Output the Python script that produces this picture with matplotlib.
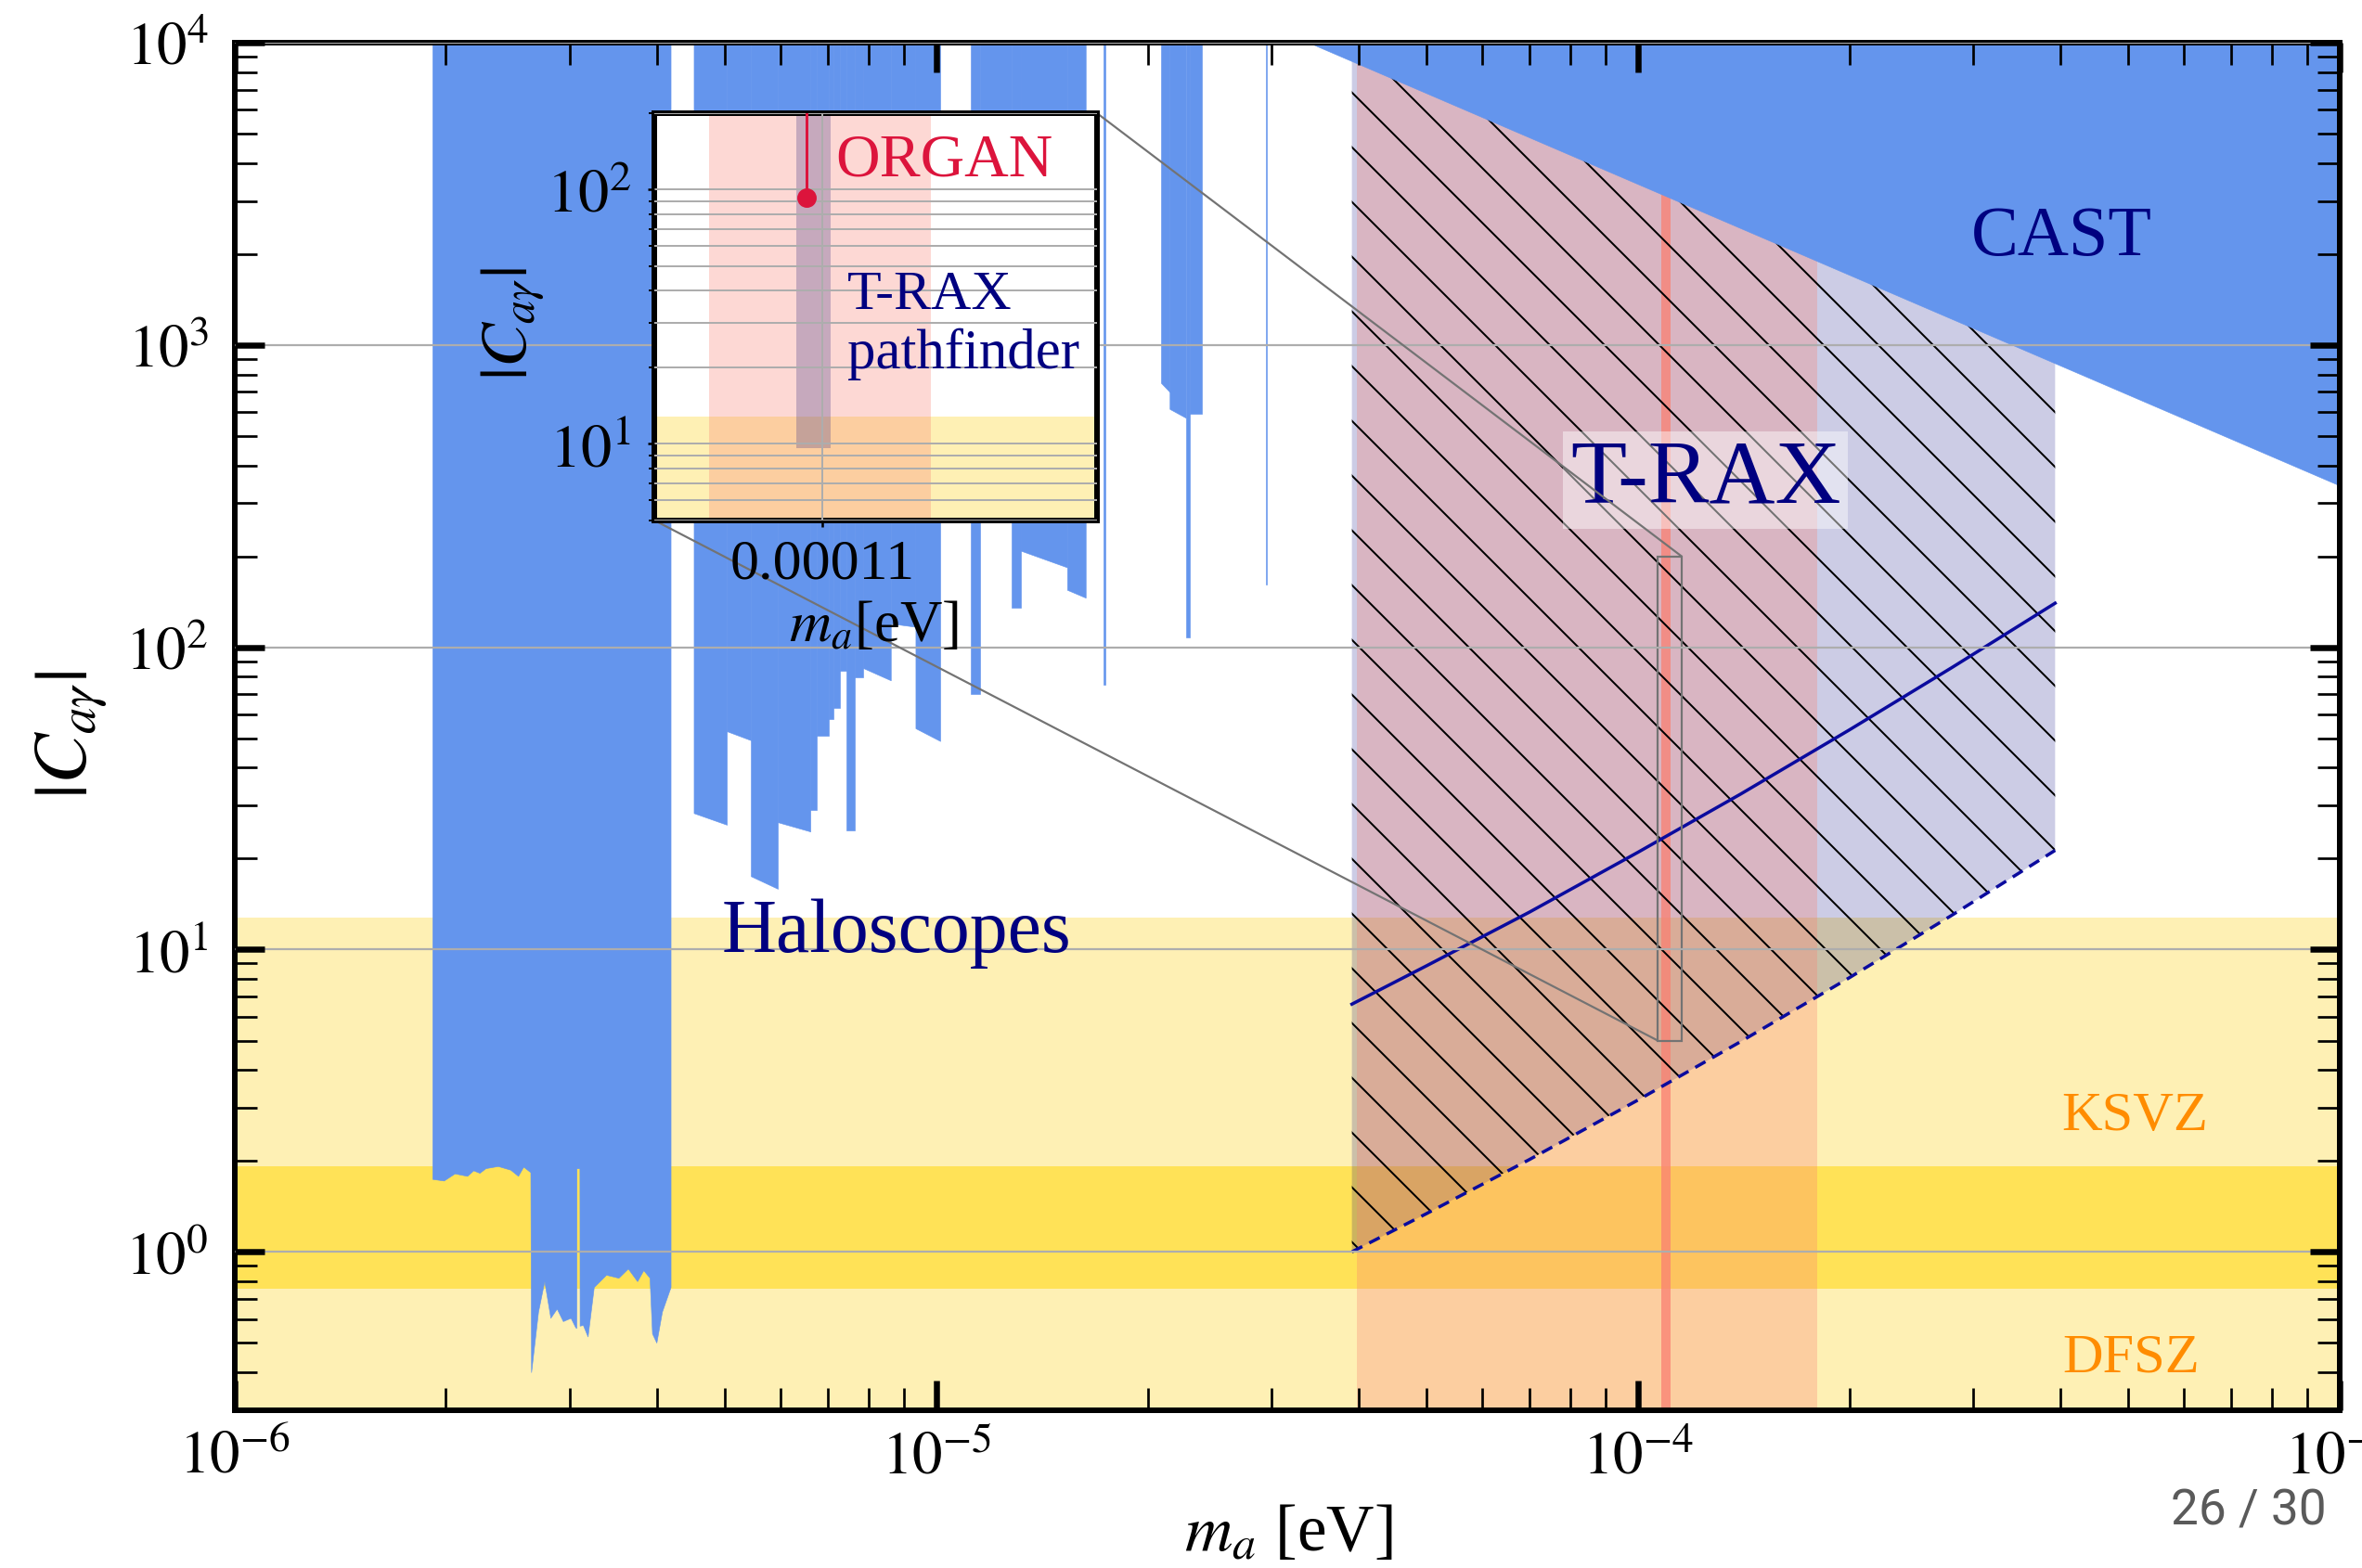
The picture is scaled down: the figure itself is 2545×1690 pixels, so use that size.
import numpy as np
import matplotlib
matplotlib.use('Agg')
import matplotlib.pyplot as plt
from matplotlib.ticker import NullFormatter, LogLocator
from mpl_toolkits.axes_grid1.inset_locator import mark_inset

DPI = 354
W, H = 2545, 1691


def px(v):
    return v * 72.0 / DPI


plt.rcParams['font.family'] = ['Liberation Serif', 'DejaVu Serif']
plt.rcParams['mathtext.fontset'] = 'stix'
plt.rcParams['hatch.linewidth'] = px(2.0)
plt.rcParams['hatch.color'] = 'black'

# ---------------- data ----------------
x_lim = [1e-6, 1e-3]
y_lim = [0.3, 1e4]
xtick_vals = [1e-6, 1e-5, 1e-4, 1e-3]
xtick_labels = [r'$10^{-6}$', r'$10^{-5}$', r'$10^{-4}$', r'$10^{-3}$']
ytick_vals = [1e0, 1e1, 1e2, 1e3, 1e4]
ytick_labels = [r'$10^{0}$', r'$10^{1}$', r'$10^{2}$', r'$10^{3}$', r'$10^{4}$']

ksvz_band = [0.3, 12.8]
dfsz_band = [0.755, 1.92]

# ADMX-like haloscope (lower edge of exclusion)
admx_m = [1.913e-6, 1.986e-6, 2.058e-6, 2.144e-6, 2.188e-6, 2.233e-6, 2.278e-6,
          2.372e-6, 2.471e-6, 2.534e-6, 2.578e-6, 2.639e-6,
          2.645e-6, 2.706e-6, 2.762e-6, 2.818e-6, 2.877e-6, 2.936e-6, 3.011e-6, 3.058e-6,
          3.068e-6, 3.070e-6, 3.100e-6, 3.102e-6,
          3.135e-6, 3.184e-6, 3.249e-6, 3.282e-6, 3.383e-6, 3.523e-6, 3.634e-6,
          3.746e-6, 3.823e-6, 3.902e-6, 3.934e-6, 3.990e-6, 4.063e-6, 4.180e-6]
admx_C = [1.743, 1.722, 1.818, 1.784, 1.861, 1.826, 1.892,
          1.923, 1.870, 1.784, 1.914, 1.835,
          0.40, 0.634, 0.80, 0.605, 0.649, 0.590, 0.605, 0.563,
          0.56, 1.89, 1.89, 0.57,
          0.573, 0.525, 0.765, 0.783, 0.840, 0.821, 0.881,
          0.80, 0.870, 0.821, 0.537, 0.501, 0.634, 0.765]

# other haloscopes: mass range and lower edge (left, right)
halo_m_lo = [4.510e-6, 5.027e-6, 5.440e-6, 5.942e-6, 6.612e-6, 6.748e-6, 7.027e-6,
             7.134e-6, 7.281e-6, 7.454e-6, 7.661e-6, 7.857e-6, 8.609e-6, 9.338e-6,
             1.1208e-5, 1.1555e-5, 1.279e-5, 1.318e-5, 1.536e-5, 1.730e-5,
             2.090e-5, 2.150e-5, 2.267e-5, 2.300e-5, 2.950e-5]
halo_m_hi = [5.027e-6, 5.440e-6, 5.942e-6, 6.612e-6, 6.748e-6, 7.027e-6, 7.134e-6,
             7.281e-6, 7.454e-6, 7.661e-6, 7.857e-6, 8.609e-6, 9.338e-6, 1.0125e-5,
             1.1555e-5, 1.279e-5, 1.318e-5, 1.536e-5, 1.632e-5, 1.740e-5,
             2.150e-5, 2.267e-5, 2.300e-5, 2.390e-5, 2.960e-5]
halo_C_left = [28.3, 52.8, 17.5, 26.4, 29.0, 51.0, 58.0,
               63.0, 83.6, 24.8, 79.5, 85.5, 120.0, 54.0,
               70.0, 300.0, 135.0, 209.0, 155.0, 75.0,
               750.0, 615.0, 108.0, 592.0, 161.0]
halo_C_right = [25.9, 49.3, 15.9, 24.6, 29.0, 51.0, 58.0,
                63.0, 83.6, 24.8, 79.5, 77.8, 117.0, 49.0,
                70.0, 300.0, 135.0, 184.0, 146.0, 75.0,
                700.0, 575.0, 108.0, 592.0, 161.0]

# CAST helioscope lower edge
cast_m = [3.4e-5, 1e-3]
cast_C = [1e4, 343.0]

# T-RAX projection
trax_m = [3.91e-5, 5e-5, 7e-5, 1e-4, 1.4e-4, 2e-4, 2.8e-4, 3.93e-4]
trax_lower = [1.0, 1.34, 2.02, 3.18, 4.96, 8.07, 12.99, 21.3]
trax_line = [6.6, 8.85, 13.3, 21.0, 32.7, 53.3, 85.7, 140.0]
trax_band_m = [3.97e-5, 1.8e-4]
organ_band_main_m = [1.080e-4, 1.1125e-4]

# inset
inset_xlim = [1.067e-4, 1.154e-4]
inset_ylim = [5.0, 200.0]
inset_band_m = [1.0778e-4, 1.1214e-4]
pathfinder_m = [1.0950e-4, 1.1017e-4]
pathfinder_C = [9.6, 1e4]
organ_m = 1.0970e-4
organ_C = [92.9, 1e4]

BLUE = '#6495ED'
NAVY = '#000080'
LINE = '#0b0b9e'
LIGHTY = '#FEF0B4'
DARKY = '#FFE257'

# ---------------- figure ----------------
fig = plt.figure(figsize=(W / DPI, H / DPI), dpi=DPI)
ax = fig.add_axes([0.09937, 0.10077, 0.8912, 0.87132])
ax.set_xscale('log')
ax.set_yscale('log')
ax.set_xlim(x_lim)
ax.set_ylim(y_lim)

ax.axhspan(ksvz_band[0], ksvz_band[1], color=LIGHTY, lw=0, zorder=0.2)
ax.axhspan(dfsz_band[0], dfsz_band[1], color=DARKY, lw=0, zorder=0.3)

ax.fill_between(admx_m, admx_C, y_lim[1], facecolor=BLUE, edgecolor=BLUE,
                lw=px(0.6), zorder=0.5)
for lo, hi, cl, cr in zip(halo_m_lo, halo_m_hi, halo_C_left, halo_C_right):
    ax.fill_between([lo, hi], [cl, cr], y_lim[1], facecolor=BLUE,
                    edgecolor=BLUE, lw=px(0.6), zorder=0.5)

ax.fill_between(trax_m, trax_lower, y_lim[1], facecolor=NAVY, alpha=0.2,
                lw=0, zorder=0.6)
ax.axvspan(trax_band_m[0], trax_band_m[1], color='salmon', alpha=0.3, lw=0,
           zorder=0.7)
ax.axvspan(organ_band_main_m[0], organ_band_main_m[1], color='salmon',
           alpha=0.75, lw=0, zorder=0.75)
ax.fill_between(trax_m, trax_lower, y_lim[1], facecolor='none',
                edgecolor='black', hatch='\\\\', lw=0, zorder=0.8)

ax.fill_between(cast_m, cast_C, y_lim[1], facecolor=BLUE, edgecolor=BLUE,
                lw=px(0.6), zorder=0.9)

ax.plot(trax_m, trax_line, color=LINE, lw=px(3.5), zorder=1.0)
ax.plot(trax_m, trax_lower, color=LINE, lw=px(3.5), ls=(0, (3.6, 2.4)),
        zorder=1.0)

ax.set_axisbelow(False)
ax.grid(True, which='major', axis='y', color='#adadad', lw=px(2.2))
ax.grid(False, axis='x')

ax.set_xticks(xtick_vals)
ax.set_xticklabels(xtick_labels)
ax.set_yticks(ytick_vals)
ax.set_yticklabels(ytick_labels)
ax.xaxis.set_minor_locator(LogLocator(base=10, subs=np.arange(2, 10), numticks=50))
ax.yaxis.set_minor_locator(LogLocator(base=10, subs=np.arange(2, 10), numticks=50))
ax.xaxis.set_minor_formatter(NullFormatter())
ax.yaxis.set_minor_formatter(NullFormatter())
ax.tick_params(which='both', direction='in', top=True, right=True)
ax.tick_params(which='major', length=px(32), width=px(6.5), labelsize=13.2)
ax.tick_params(which='minor', length=px(24), width=px(2.7))
ax.tick_params(axis='x', which='major', pad=px(22))
ax.tick_params(axis='y', which='major', pad=px(28))
for sp in ax.spines.values():
    sp.set_linewidth(px(6))

ax.set_xlabel(r'$m_a$ [eV]', fontsize=14.5)
ax.xaxis.set_label_coords(0.5006, -0.068)
ax.set_ylabel(r'$|C_{a\gamma}|$', fontsize=16.5)
ax.yaxis.set_label_coords(-0.0776, 0.4945)
ax.yaxis.label.set_va('center')

ax.text(4.01e-4, 1995, 'CAST', color=NAVY, fontsize=15.5, ha='center',
        va='baseline', zorder=4)
ax.text(1.248e-4, 303, 'T-RAX', color=NAVY, fontsize=20, ha='center',
        va='baseline', zorder=4,
        bbox=dict(boxstyle='square,pad=0.08', fc='white', alpha=0.45, ec='none'))
ax.text(8.77e-6, 9.92, 'Haloscopes', color=NAVY, fontsize=16.6, ha='center',
        va='baseline', zorder=4)
ax.text(5.1e-4, 2.54, 'KSVZ', color='darkorange', fontsize=12.3, ha='center',
        va='baseline', zorder=4)
ax.text(5.05e-4, 0.405, 'DFSZ', color='darkorange', fontsize=12.3, ha='center',
        va='baseline', zorder=4)

# ---------------- inset ----------------
axins = fig.add_axes([0.2770, 0.6678, 0.1873, 0.2596])
axins.set_yscale('log')
axins.set_xlim(inset_xlim)
axins.set_ylim(inset_ylim)
axins.set_facecolor('white')
axins.axhspan(ksvz_band[0], ksvz_band[1], color=LIGHTY, lw=0, zorder=0.2)
axins.axvspan(inset_band_m[0], inset_band_m[1], color='salmon', alpha=0.3,
              lw=0, zorder=0.5)
axins.fill_between(pathfinder_m, pathfinder_C[0], pathfinder_C[1],
                   color='darkslateblue', alpha=0.3, lw=0, zorder=0.6)
axins.plot([organ_m, organ_m], organ_C, color='crimson', lw=px(3), zorder=3)
axins.plot([organ_m], [organ_C[0]], 'o', color='crimson', ms=px(16), zorder=3)
axins.set_axisbelow(False)
axins.grid(True, which='both', axis='y', color='#adadad', lw=px(2))
axins.grid(True, which='major', axis='x', color='#adadad', lw=px(2))
axins.set_xticks([1.1e-4])
axins.set_xticklabels(['0.00011'])
axins.set_yticks([1e1, 1e2])
axins.set_yticklabels([r'$10^{1}$', r'$10^{2}$'])
axins.yaxis.set_minor_locator(LogLocator(base=10, subs=np.arange(2, 10), numticks=50))
axins.yaxis.set_minor_formatter(NullFormatter())
axins.tick_params(which='both', direction='out')
axins.tick_params(axis='x', labelsize=12.6, pad=px(12))
axins.tick_params(axis='y', labelsize=13.5, pad=px(18))
axins.tick_params(which='major', length=px(7), width=px(2.5))
axins.tick_params(which='minor', length=px(6), width=px(2))
for sp in axins.spines.values():
    sp.set_linewidth(px(6))
axins.set_ylabel(r'$|C_{a\gamma}|$', fontsize=14.5)
axins.yaxis.set_label_coords(-0.319, 0.4845)
axins.yaxis.label.set_va('center')
axins.set_xlabel(r'$m_a$[eV]', fontsize=12.8)
axins.xaxis.set_label_coords(0.496, -0.195)
axins.text(0.4105, 0.847, 'ORGAN', transform=axins.transAxes, color='crimson',
           fontsize=13.4, ha='left', va='baseline', zorder=4)
axins.text(0.4357, 0.520, 'T-RAX', transform=axins.transAxes, color=NAVY,
           fontsize=12.2, ha='left', va='baseline', zorder=4)
axins.text(0.4357, 0.376, 'pathfinder', transform=axins.transAxes, color=NAVY,
           fontsize=12.4, ha='left', va='baseline', zorder=4)

mark_inset(ax, axins, loc1=1, loc2=3, fc='none', ec='0.45', lw=px(2.2),
           zorder=1.2)

fig.text(2507 / W, 1 - 1644 / H, '26 / 30', ha='right', va='baseline',
         color='#5a5a5a', fontsize=10.8, family=['Roboto', 'DejaVu Sans'])

fig.savefig('out.png', dpi=DPI)
